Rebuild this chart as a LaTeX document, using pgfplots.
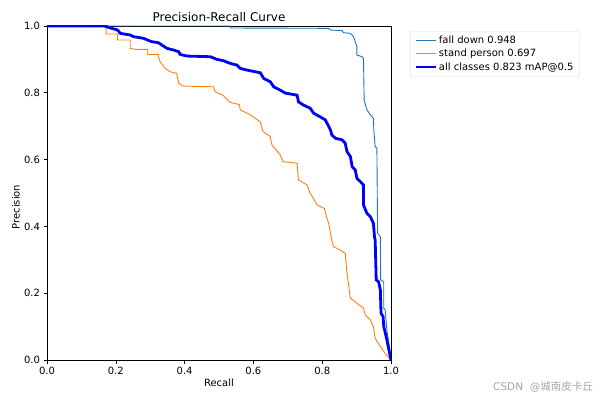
\documentclass[border=0pt]{standalone}
\usepackage{fontspec}
\setmainfont{DejaVu Sans}
\newfontfamily\cjk{Noto Sans CJK SC}
\usepackage{pgfplots}
\pgfplotsset{compat=1.18}
\definecolor{cfall}{RGB}{31,119,180}
\definecolor{cstand}{RGB}{255,127,14}
\begin{document}
\fontsize{10}{12}\selectfont
\begin{tikzpicture}
\path[use as bounding box] (0pt,0pt) rectangle (600pt,400pt);
\begin{axis}[
  at={(47pt,40pt)}, anchor=south west,
  width=344pt, height=334pt, scale only axis,
  xmin=0, xmax=1, ymin=0, ymax=1,
  xtick={0,0.2,0.4,0.6,0.8,1}, xticklabels={0.0,0.2,0.4,0.6,0.8,1.0},
  ytick={0,0.2,0.4,0.6,0.8,1}, yticklabels={0.0,0.2,0.4,0.6,0.8,1.0},
  tick align=outside, xtick pos=bottom, ytick pos=left,
  major tick length=3.5pt,
  tick style={black, line width=0.6pt},
  axis line style={line width=0.6pt},
  tick label style={font=\fontsize{10}{12}\selectfont},
  /pgf/number format/assume math mode=true,
  legend style={at={(1.055,0.985)}, anchor=north west, draw=black!15, rounded corners=2pt,
    font=\fontsize{10}{12}\selectfont, row sep=0pt, inner xsep=4pt, inner ysep=3pt,
    cells={anchor=west}},
  legend image code/.code={\draw[#1] (0pt,0pt) -- (20pt,0pt);},
]
\addplot[cfall, line width=0.9pt] coordinates {
(0,1) (0.533,1) (0.533,0.994) (0.819,0.993) (0.824,0.988) (0.858,0.986) (0.862,0.980)
(0.882,0.978) (0.891,0.968) (0.901,0.938) (0.901,0.913) (0.916,0.908) (0.920,0.903)
(0.922,0.778) (0.930,0.749) (0.940,0.734) (0.949,0.724) (0.950,0.689) (0.954,0.639)
(0.959,0.634) (0.961,0.379) (0.969,0.369) (0.970,0.240) (0.979,0.234) (0.979,0.155)
(0.983,0.150) (0.988,0.090) (0.998,0.020) (1.0,0.0)};
\addlegendentry{fall down 0.948}
\addplot[cstand, line width=0.9pt] coordinates {
(0,1) (0.172,1) (0.172,0.976) (0.205,0.976) (0.205,0.958) (0.242,0.958) (0.242,0.933)
(0.257,0.930) (0.293,0.930) (0.293,0.915) (0.324,0.915) (0.324,0.908) (0.329,0.893)
(0.344,0.873) (0.358,0.863) (0.377,0.858) (0.383,0.828) (0.397,0.820) (0.484,0.818)
(0.489,0.803) (0.511,0.793) (0.533,0.771) (0.559,0.765) (0.562,0.749) (0.591,0.734)
(0.620,0.713) (0.628,0.684) (0.649,0.669) (0.654,0.644) (0.678,0.614) (0.686,0.594)
(0.727,0.589) (0.731,0.539) (0.756,0.524) (0.765,0.499) (0.780,0.474) (0.785,0.464)
(0.806,0.454) (0.814,0.424) (0.819,0.409) (0.828,0.359) (0.833,0.339) (0.853,0.329)
(0.867,0.319) (0.872,0.260) (0.882,0.185) (0.901,0.170) (0.920,0.155) (0.925,0.135)
(0.940,0.120) (0.949,0.100) (0.954,0.065) (0.969,0.040) (0.983,0.020) (1.0,0.0)};
\addlegendentry{stand person 0.697}
\addplot[blue, line width=2.8pt] coordinates {
(0,1) (0.172,1) (0.172,0.998) (0.205,0.988) (0.213,0.978) (0.242,0.973) (0.252,0.968)
(0.281,0.963) (0.292,0.958) (0.305,0.953) (0.324,0.950) (0.334,0.943) (0.349,0.933)
(0.368,0.928) (0.383,0.923) (0.387,0.915) (0.407,0.910) (0.475,0.908) (0.494,0.900)
(0.513,0.896) (0.533,0.888) (0.552,0.883) (0.562,0.873) (0.581,0.868) (0.620,0.860)
(0.630,0.843) (0.649,0.833) (0.659,0.818) (0.678,0.808) (0.693,0.799) (0.727,0.793)
(0.731,0.773) (0.746,0.763) (0.765,0.754) (0.775,0.739) (0.794,0.728) (0.809,0.719)
(0.819,0.699) (0.824,0.689) (0.828,0.674) (0.838,0.664) (0.858,0.659) (0.867,0.649)
(0.872,0.624) (0.882,0.609) (0.887,0.579) (0.896,0.569) (0.901,0.544) (0.911,0.534)
(0.920,0.524) (0.920,0.464) (0.930,0.439) (0.940,0.429) (0.949,0.409) (0.952,0.369)
(0.954,0.359) (0.957,0.240) (0.964,0.234) (0.969,0.210) (0.971,0.140) (0.977,0.130)
(0.979,0.100) (0.986,0.070) (0.998,0.010) (1.0,0.0)};
\addlegendentry{all classes 0.823 mAP@0.5}
\end{axis}
\node[font=\fontsize{12}{14}\selectfont] at (219pt,383pt) {Precision-Recall Curve};
\node at (219pt,17pt) {Recall};
\node[rotate=90] at (16pt,193pt) {Precision};
\node[text=black!35, font=\fontsize{10.5}{12}\selectfont] at (543pt,13pt) {CSDN\ \ @{\cjk 城南皮卡丘}};
\end{tikzpicture}
\end{document}
